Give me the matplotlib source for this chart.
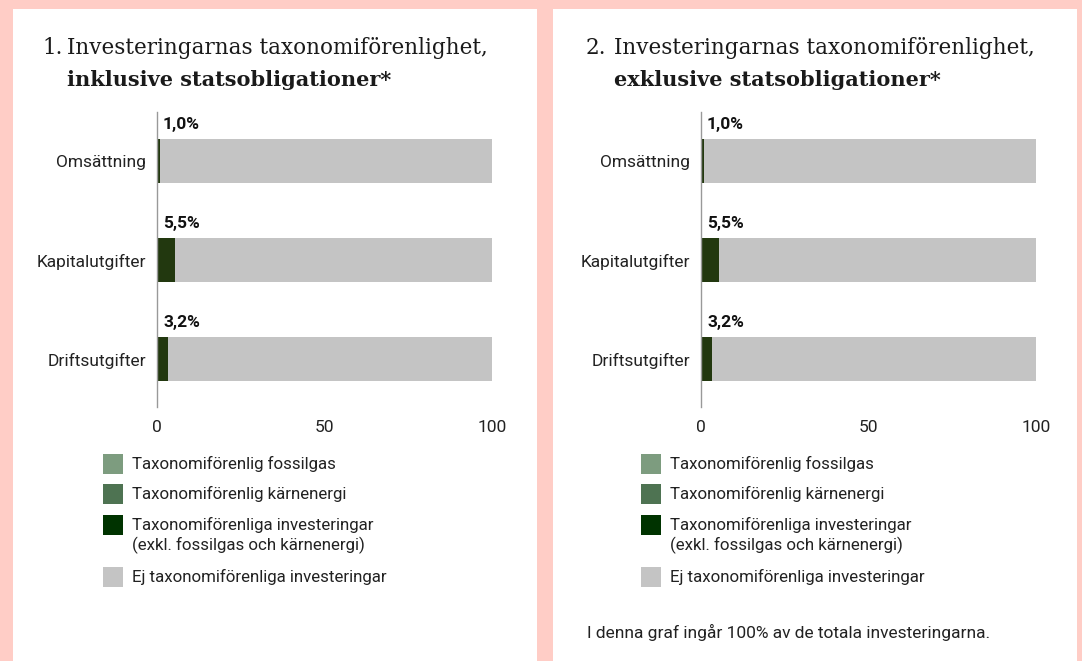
import matplotlib.pyplot as plt
from matplotlib.patches import Rectangle

# andelar i procent per nyckeltal
kategorier = ['Omsättning', 'Kapitalutgifter', 'Driftsutgifter']
fossilgas = [0.0, 0.0, 0.0]
karnenergi = [0.0, 0.0, 0.0]
investeringar = [1.0, 5.5, 3.2]
ej_forenliga = [99.0, 94.5, 96.8]
etiketter = ['1,0%', '5,5%', '3,2%']

serier = ['Taxonomiförenlig fossilgas', 'Taxonomiförenlig kärnenergi',
          'Taxonomiförenliga investeringar\n(exkl. fossilgas och kärnenergi)',
          'Ej taxonomiförenliga investeringar']
fargor = ['#7d9c7f', '#4e7352', '#003300', '#c4c4c4']
bar_gron = '#22380f'

rubriker = [('1.', 'Investeringarnas taxonomiförenlighet,', 'inklusive statsobligationer*'),
            ('2.', 'Investeringarnas taxonomiförenlighet,', 'exklusive statsobligationer*')]
fotnot = 'I denna graf ingår 100% av de totala investeringarna.'

W, H = 1082, 661
SANS = ['Roboto', 'DejaVu Sans']
SERIF = ['DejaVu Serif']
TXT = '#222222'

fig = plt.figure(figsize=(W / 100, H / 100), dpi=100)
fig.patch.set_facecolor('#ffcdc6')


def px(x, y):
    return x / W, 1 - y / H


# (panel, rubrik nr, rubrik text, axlar, förklaring)
placering = [(13, 42, 67, 157, 103), (553, 586, 614, 701, 641)]

for i, (x_panel, x_nr, x_rub, x_ax, x_leg) in enumerate(placering):
    # vit panel
    fig.add_artist(Rectangle(px(x_panel, 661), 524 / W, 652 / H, transform=fig.transFigure,
                             facecolor='white', edgecolor='none', zorder=0))

    nr, rad1, rad2 = rubriker[i]
    fig.text(*px(x_nr, 48), nr, family=SERIF, fontsize=15.5, va='center', color='#1a1a1a')
    fig.text(*px(x_rub, 48), rad1, family=SERIF, fontsize=15.5, va='center', color='#1a1a1a')
    fig.text(*px(x_rub, 80), rad2, family=SERIF, fontsize=15, weight='bold',
             va='center', color='#1a1a1a')

    ax = fig.add_axes([x_ax / W, 1 - 407 / H, 335 / W, 295 / H])
    ax.set_facecolor('none')
    y = range(len(kategorier))
    vanster = [0] * len(kategorier)
    for vals, c in [(fossilgas, fargor[0]), (karnenergi, fargor[1]),
                    (investeringar, bar_gron), (ej_forenliga, fargor[3])]:
        ax.barh(y, vals, left=vanster, height=0.444, color=c, linewidth=0)
        vanster = [a + b for a, b in zip(vanster, vals)]
    for yi, t in zip(y, etiketter):
        ax.text(1.8, yi - 0.37, t, family=SANS, fontsize=12.5, weight='bold', va='center',
                color='#111111')

    ax.set_xlim(0, 100)
    ax.set_ylim(2.485, -0.495)
    ax.set_yticks(list(y))
    ax.set_yticklabels(kategorier, family=SANS, fontsize=12.5, color=TXT)
    ax.set_xticks([0, 50, 100])
    ax.set_xticklabels(['0', '50', '100'], family=SANS, fontsize=12.5, color=TXT)
    ax.tick_params(length=0, axis='y', pad=8)
    ax.tick_params(length=0, axis='x', pad=9)
    for s in ['top', 'right', 'bottom']:
        ax.spines[s].set_visible(False)
    ax.spines['left'].set_color('#999999')
    ax.spines['left'].set_linewidth(1)

    # förklaring
    for c, t, yr in zip(fargor, serier, [464, 494, 525, 577]):
        fig.add_artist(Rectangle(px(x_leg, yr + 10), 20 / W, 20 / H, transform=fig.transFigure,
                                 facecolor=c, edgecolor='none'))
        fig.text(*px(x_leg + 29, yr - 8), t, family=SANS, fontsize=12.2, va='top',
                 color=TXT, linespacing=1.3)

fig.text(*px(587, 632), fotnot, family=SANS, fontsize=12.5, va='center', color=TXT)

fig.savefig('out.png', dpi=100, facecolor=fig.get_facecolor())
